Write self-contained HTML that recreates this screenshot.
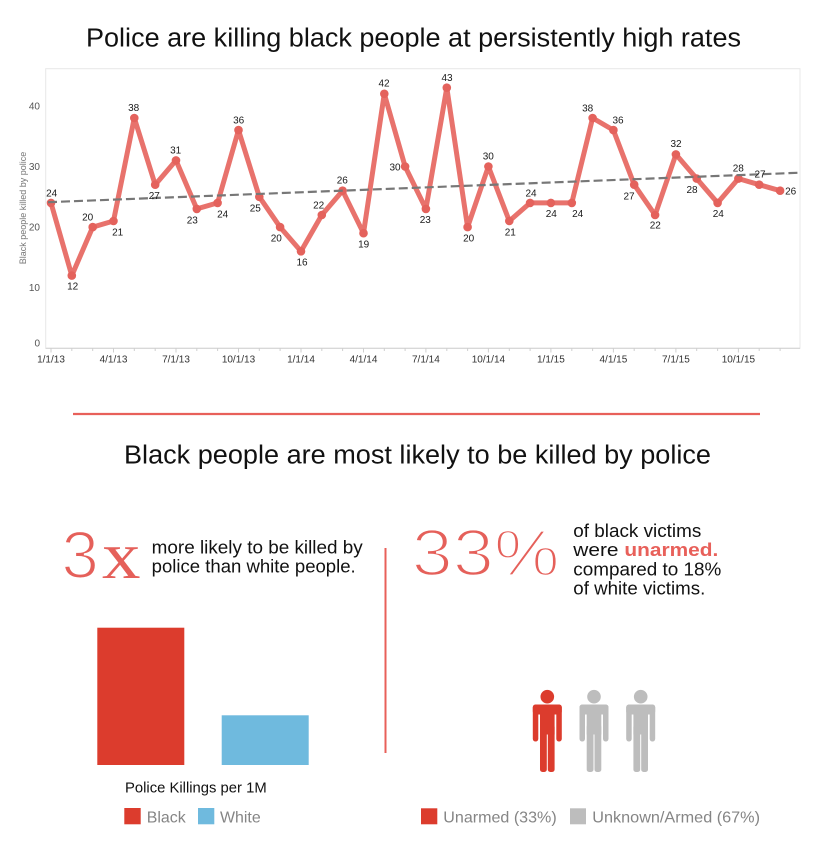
<!DOCTYPE html>
<html><head><meta charset="utf-8"><style>
html,body{margin:0;padding:0;background:#fff;}
svg{display:block;}
text{font-family:"Liberation Sans",Arial,sans-serif;}
</style></head><body>
<svg width="817" height="853" viewBox="0 0 817 853" xmlns="http://www.w3.org/2000/svg">
<rect width="817" height="853" fill="#fff"/>
<!-- Title 1 -->
<text x="86" y="46.7" font-size="25.5" fill="#111" textLength="655" lengthAdjust="spacingAndGlyphs">Police are killing black people at persistently high rates</text>

<!-- chart frame -->
<rect x="45.7" y="68.7" width="754.3" height="279.6" fill="none" stroke="#e8e8e8" stroke-width="1"/>
<line x1="45.7" y1="348.3" x2="800" y2="348.3" stroke="#cfcfcf" stroke-width="1"/>

<!-- y axis labels -->
<g font-size="10" fill="#555" text-anchor="end">
<text x="40" y="109.6">40</text>
<text x="40" y="169.8">30</text>
<text x="40" y="230.5">20</text>
<text x="40" y="291.2">10</text>
<text x="40" y="346.3">0</text>
</g>
<text transform="translate(26,208) rotate(-90)" font-size="9" fill="#777" text-anchor="middle">Black people killed by police</text>

<!-- ticks -->
<g stroke="#cfcfcf" stroke-width="1">
<line x1="51.0" y1="348.3" x2="51.0" y2="352.5"/><line x1="71.8" y1="348.3" x2="71.8" y2="351"/><line x1="92.7" y1="348.3" x2="92.7" y2="351"/>
<line x1="113.5" y1="348.3" x2="113.5" y2="352.5"/><line x1="134.3" y1="348.3" x2="134.3" y2="351"/><line x1="155.2" y1="348.3" x2="155.2" y2="351"/>
<line x1="176.0" y1="348.3" x2="176.0" y2="352.5"/><line x1="196.8" y1="348.3" x2="196.8" y2="351"/><line x1="217.6" y1="348.3" x2="217.6" y2="351"/>
<line x1="238.5" y1="348.3" x2="238.5" y2="352.5"/><line x1="259.3" y1="348.3" x2="259.3" y2="351"/><line x1="280.1" y1="348.3" x2="280.1" y2="351"/>
<line x1="301.0" y1="348.3" x2="301.0" y2="352.5"/><line x1="321.8" y1="348.3" x2="321.8" y2="351"/><line x1="342.6" y1="348.3" x2="342.6" y2="351"/>
<line x1="363.5" y1="348.3" x2="363.5" y2="352.5"/><line x1="384.3" y1="348.3" x2="384.3" y2="351"/><line x1="405.1" y1="348.3" x2="405.1" y2="351"/>
<line x1="425.9" y1="348.3" x2="425.9" y2="352.5"/><line x1="446.8" y1="348.3" x2="446.8" y2="351"/><line x1="467.6" y1="348.3" x2="467.6" y2="351"/>
<line x1="488.4" y1="348.3" x2="488.4" y2="352.5"/><line x1="509.3" y1="348.3" x2="509.3" y2="351"/><line x1="530.1" y1="348.3" x2="530.1" y2="351"/>
<line x1="550.9" y1="348.3" x2="550.9" y2="352.5"/><line x1="571.8" y1="348.3" x2="571.8" y2="351"/><line x1="592.6" y1="348.3" x2="592.6" y2="351"/>
<line x1="613.4" y1="348.3" x2="613.4" y2="352.5"/><line x1="634.2" y1="348.3" x2="634.2" y2="351"/><line x1="655.1" y1="348.3" x2="655.1" y2="351"/>
<line x1="675.9" y1="348.3" x2="675.9" y2="352.5"/><line x1="696.7" y1="348.3" x2="696.7" y2="351"/><line x1="717.6" y1="348.3" x2="717.6" y2="351"/>
<line x1="738.4" y1="348.3" x2="738.4" y2="352.5"/><line x1="759.2" y1="348.3" x2="759.2" y2="351"/><line x1="780.1" y1="348.3" x2="780.1" y2="351"/>
</g>
<g font-size="10" fill="#333" text-anchor="middle">
<text x="51.0" y="362.5">1/1/13</text>
<text x="113.5" y="362.5">4/1/13</text>
<text x="176.0" y="362.5">7/1/13</text>
<text x="238.5" y="362.5">10/1/13</text>
<text x="301.0" y="362.5">1/1/14</text>
<text x="363.5" y="362.5">4/1/14</text>
<text x="425.9" y="362.5">7/1/14</text>
<text x="488.4" y="362.5">10/1/14</text>
<text x="550.9" y="362.5">1/1/15</text>
<text x="613.4" y="362.5">4/1/15</text>
<text x="675.9" y="362.5">7/1/15</text>
<text x="738.4" y="362.5">10/1/15</text>
</g>

<!-- data line -->
<polyline fill="none" stroke="#e8726c" stroke-width="5" stroke-linejoin="round" stroke-linecap="round"
points="51.0,202.9 71.8,275.6 92.7,227.1 113.5,221.0 134.3,118.0 155.2,184.7 176.0,160.4 196.8,208.9 217.6,202.9 238.5,130.1 259.3,196.8 280.1,227.1 301.0,251.3 321.8,215.0 342.6,190.7 363.5,233.2 384.3,93.8 405.1,166.5 425.9,208.9 446.8,87.7 467.6,227.1 488.4,166.5 509.3,221.0 530.1,202.9 550.9,202.9 571.8,202.9 592.6,118.0 613.4,130.1 634.2,184.7 655.1,215.0 675.9,154.4 696.7,178.6 717.6,202.9 738.4,178.6 759.2,184.7 780.1,190.7"/>
<g fill="#e4625c">
<circle cx="51.0" cy="202.9" r="4.3"/><circle cx="71.8" cy="275.6" r="4.3"/><circle cx="92.7" cy="227.1" r="4.3"/><circle cx="113.5" cy="221.0" r="4.3"/>
<circle cx="134.3" cy="118.0" r="4.3"/><circle cx="155.2" cy="184.7" r="4.3"/><circle cx="176.0" cy="160.4" r="4.3"/><circle cx="196.8" cy="208.9" r="4.3"/>
<circle cx="217.6" cy="202.9" r="4.3"/><circle cx="238.5" cy="130.1" r="4.3"/><circle cx="259.3" cy="196.8" r="4.3"/><circle cx="280.1" cy="227.1" r="4.3"/>
<circle cx="301.0" cy="251.3" r="4.3"/><circle cx="321.8" cy="215.0" r="4.3"/><circle cx="342.6" cy="190.7" r="4.3"/><circle cx="363.5" cy="233.2" r="4.3"/>
<circle cx="384.3" cy="93.8" r="4.3"/><circle cx="405.1" cy="166.5" r="4.3"/><circle cx="425.9" cy="208.9" r="4.3"/><circle cx="446.8" cy="87.7" r="4.3"/>
<circle cx="467.6" cy="227.1" r="4.3"/><circle cx="488.4" cy="166.5" r="4.3"/><circle cx="509.3" cy="221.0" r="4.3"/><circle cx="530.1" cy="202.9" r="4.3"/>
<circle cx="550.9" cy="202.9" r="4.3"/><circle cx="571.8" cy="202.9" r="4.3"/><circle cx="592.6" cy="118.0" r="4.3"/><circle cx="613.4" cy="130.1" r="4.3"/>
<circle cx="634.2" cy="184.7" r="4.3"/><circle cx="655.1" cy="215.0" r="4.3"/><circle cx="675.9" cy="154.4" r="4.3"/><circle cx="696.7" cy="178.6" r="4.3"/>
<circle cx="717.6" cy="202.9" r="4.3"/><circle cx="738.4" cy="178.6" r="4.3"/><circle cx="759.2" cy="184.7" r="4.3"/><circle cx="780.1" cy="190.7" r="4.3"/>
</g>

<!-- trend line -->
<line x1="48" y1="202.2" x2="800" y2="172.7" stroke="#777" stroke-width="2.2" stroke-dasharray="9,4"/>

<!-- data labels -->
<g font-size="10" fill="#1a1a1a" text-anchor="middle">
<text x="51.7" y="196.3">24</text>
<text x="72.7" y="289.6">12</text>
<text x="87.7" y="220.3">20</text>
<text x="117.7" y="235.6">21</text>
<text x="133.7" y="110.9">38</text>
<text x="154.3" y="198.9">27</text>
<text x="175.7" y="153.6">31</text>
<text x="192.3" y="223.6">23</text>
<text x="222.7" y="217.6">24</text>
<text x="238.7" y="123.6">36</text>
<text x="255.3" y="211.3">25</text>
<text x="276.3" y="241.6">20</text>
<text x="302" y="265.3">16</text>
<text x="318.7" y="208.3">22</text>
<text x="342.3" y="183.6">26</text>
<text x="363.7" y="247.3">19</text>
<text x="384" y="86.3">42</text>
<text x="395" y="170.3">30</text>
<text x="425.3" y="222.9">23</text>
<text x="447" y="80.9">43</text>
<text x="468.7" y="241.3">20</text>
<text x="488.3" y="159.6">30</text>
<text x="510.3" y="235.6">21</text>
<text x="531" y="196.3">24</text>
<text x="551.3" y="216.9">24</text>
<text x="577.7" y="216.9">24</text>
<text x="587.7" y="111.3">38</text>
<text x="618" y="123.6">36</text>
<text x="629" y="199.3">27</text>
<text x="655.3" y="228.6">22</text>
<text x="676" y="146.9">32</text>
<text x="692" y="192.9">28</text>
<text x="718.3" y="216.9">24</text>
<text x="738.3" y="171.3">28</text>
<text x="760" y="177.3">27</text>
<text x="790.7" y="194.6">26</text>
</g>

<!-- separator -->
<line x1="73" y1="414" x2="760" y2="414" stroke="#e8605a" stroke-width="2.2"/>

<!-- Title 2 -->
<text x="124" y="463.3" font-size="25.5" fill="#111" textLength="587" lengthAdjust="spacingAndGlyphs">Black people are most likely to be killed by police</text>

<!-- 3x -->
<text x="61.5" y="578" font-size="67" fill="#e5605a" stroke="#fff" stroke-width="2" paint-order="fill">3</text>
<text x="102" y="578" font-size="67" fill="#e5605a" style="font-family:'Liberation Serif',serif" textLength="38.5" lengthAdjust="spacingAndGlyphs">x</text>
<g font-size="18" fill="#111">
<text x="151.7" y="553.3" textLength="211" lengthAdjust="spacingAndGlyphs">more likely to be killed by</text>
<text x="151.7" y="572.7" textLength="204" lengthAdjust="spacingAndGlyphs">police than white people.</text>
</g>

<!-- divider -->
<line x1="385.5" y1="548" x2="385.5" y2="753" stroke="#e8605a" stroke-width="2"/>

<!-- 33% -->
<text x="411.7" y="575.5" font-size="66" fill="#e5605a" stroke="#fff" stroke-width="2.4" paint-order="fill" textLength="148" lengthAdjust="spacingAndGlyphs">33%</text>
<g font-size="18.5" fill="#111">
<text x="573.3" y="537" textLength="128" lengthAdjust="spacingAndGlyphs">of black victims</text>
<text x="573.3" y="556" textLength="145" lengthAdjust="spacingAndGlyphs">were <tspan font-weight="bold" fill="#e8605a">unarmed.</tspan></text>
<text x="573.3" y="575.5" textLength="148" lengthAdjust="spacingAndGlyphs">compared to 18%</text>
<text x="573.3" y="594.5" textLength="132" lengthAdjust="spacingAndGlyphs">of white victims.</text>
</g>

<!-- bars -->
<rect x="97.3" y="627.7" width="87" height="137.3" fill="#dc3c2d"/>
<rect x="221.7" y="715.3" width="87" height="49.7" fill="#6fbade"/>
<text x="125" y="792.5" font-size="14.5" fill="#111" textLength="141.7" lengthAdjust="spacingAndGlyphs">Police Killings per 1M</text>
<rect x="124.3" y="808" width="16.4" height="16.3" fill="#dc3c2d"/>
<text x="146.7" y="822.7" font-size="16" fill="#858585" textLength="39" lengthAdjust="spacingAndGlyphs">Black</text>
<rect x="198" y="808" width="16.3" height="16.3" fill="#6fbade"/>
<text x="220" y="822.7" font-size="16" fill="#858585" textLength="40.7" lengthAdjust="spacingAndGlyphs">White</text>

<!-- figures -->
<g transform="translate(532.8,704.5)" fill="#dc3c2d">
<circle cx="14.5" cy="-7.8" r="6.8"/>
<rect x="0" y="0" width="29" height="10" rx="3"/>
<rect x="0" y="0" width="5.5" height="37" rx="2.7"/>
<rect x="23.5" y="0" width="5.5" height="37" rx="2.7"/>
<rect x="7.2" y="0" width="14.6" height="30"/>
<rect x="7.2" y="20" width="6.8" height="47.5" rx="2.5"/>
<rect x="15" y="20" width="6.8" height="47.5" rx="2.5"/>
</g>
<g transform="translate(579.5,704.5)" fill="#bdbdbd">
<circle cx="14.5" cy="-7.8" r="6.8"/>
<rect x="0" y="0" width="29" height="10" rx="3"/>
<rect x="0" y="0" width="5.5" height="37" rx="2.7"/>
<rect x="23.5" y="0" width="5.5" height="37" rx="2.7"/>
<rect x="7.2" y="0" width="14.6" height="30"/>
<rect x="7.2" y="20" width="6.8" height="47.5" rx="2.5"/>
<rect x="15" y="20" width="6.8" height="47.5" rx="2.5"/>
</g>
<g transform="translate(626.2,704.5)" fill="#bdbdbd">
<circle cx="14.5" cy="-7.8" r="6.8"/>
<rect x="0" y="0" width="29" height="10" rx="3"/>
<rect x="0" y="0" width="5.5" height="37" rx="2.7"/>
<rect x="23.5" y="0" width="5.5" height="37" rx="2.7"/>
<rect x="7.2" y="0" width="14.6" height="30"/>
<rect x="7.2" y="20" width="6.8" height="47.5" rx="2.5"/>
<rect x="15" y="20" width="6.8" height="47.5" rx="2.5"/>
</g>

<!-- right legend -->
<rect x="421" y="808.3" width="16.3" height="16" fill="#dc3c2d"/>
<text x="443.3" y="822.7" font-size="16" fill="#858585" textLength="113.4" lengthAdjust="spacingAndGlyphs">Unarmed (33%)</text>
<rect x="570" y="808.3" width="16" height="16" fill="#bdbdbd"/>
<text x="592.3" y="822.7" font-size="16" fill="#858585" textLength="167.7" lengthAdjust="spacingAndGlyphs">Unknown/Armed (67%)</text>
</svg>
</body></html>
